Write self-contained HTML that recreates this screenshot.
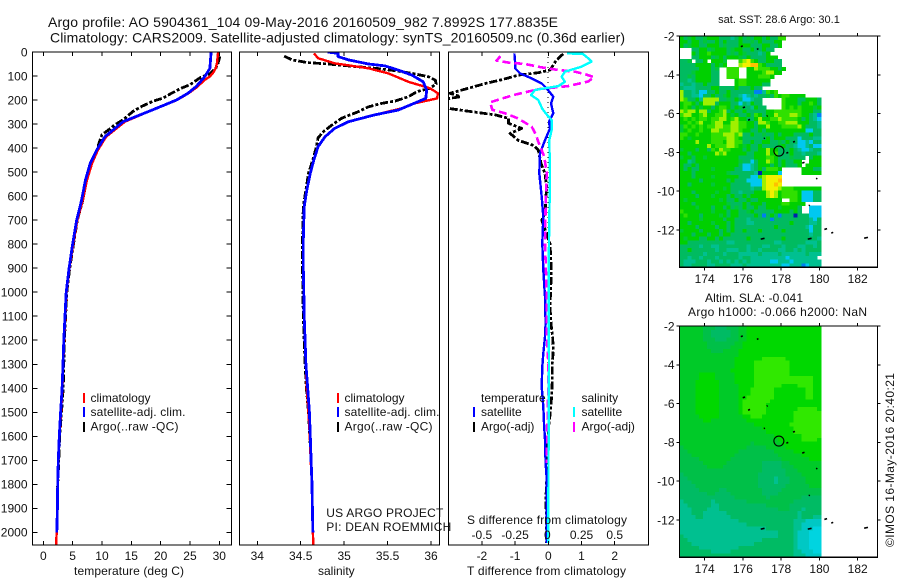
<!DOCTYPE html>
<html lang="en">
<head>
<meta charset="utf-8">
<title>Argo profile 5904361_104</title>
<style>
html,body{margin:0;padding:0;background:#fff;width:900px;height:580px;overflow:hidden}
svg{display:block}
text{font-family:"Liberation Sans",sans-serif;font-size:12px;fill:#111}
.ttl{font-size:14px}
.ax{fill:none;stroke:#000;stroke-width:1.4;shape-rendering:crispEdges}
.tk{stroke:#000;stroke-width:1;shape-rendering:crispEdges}
.ln{fill:none;stroke-linejoin:round;shape-rendering:crispEdges}
</style>
</head>
<body>
<svg id="chart" xmlns="http://www.w3.org/2000/svg" width="900" height="580" viewBox="0 0 900 580">
<defs>
<clipPath id="clip-temp"><rect x="33" y="52" width="198" height="493"/></clipPath>
<clipPath id="clip-sal"><rect x="240" y="52" width="199" height="493"/></clipPath>
<clipPath id="clip-diff"><rect x="449" y="52" width="199" height="493"/></clipPath>
</defs>
<text class="ttl" x="48" y="27" textLength="510" lengthAdjust="spacing">Argo profile: AO 5904361_104 09-May-2016 20160509_982 7.8992S 177.8835E</text>
<text class="ttl" x="50" y="42.5" textLength="575" lengthAdjust="spacing">Climatology: CARS2009. Satellite-adjusted climatology: synTS_20160509.nc (0.36d earlier)</text>
<g id="maps"></g>
<g id="lines"></g>
<g id="axes"></g>

<text x="74" y="575" textLength="110">temperature (deg C)</text>
<text x="318" y="575">salinity</text>
<text x="467" y="575" textLength="159">T difference from climatology</text>
<text x="467" y="524" textLength="160">S difference from climatology</text>

<g>
<rect x="83" y="393" width="2" height="10" fill="#f00"/>
<rect x="83" y="407" width="2" height="10" fill="#00f"/>
<rect x="83" y="422" width="2" height="10" fill="#000"/>
<text x="90.5" y="402">climatology</text>
<text x="90.5" y="416" textLength="95">satellite-adj. clim.</text>
<text x="90.5" y="430.5" textLength="88">Argo(..raw -QC)</text>
</g>
<g>
<rect x="337" y="393" width="2" height="10" fill="#f00"/>
<rect x="337" y="407" width="2" height="10" fill="#00f"/>
<rect x="337" y="422" width="2" height="10" fill="#000"/>
<text x="344.5" y="402">climatology</text>
<text x="344.5" y="416" textLength="95">satellite-adj. clim.</text>
<text x="344.5" y="430.5" textLength="88">Argo(..raw -QC)</text>
</g>
<g>
<text x="481" y="402">temperature</text>
<text x="581.5" y="402">salinity</text>
<rect x="473" y="407" width="2" height="10" fill="#00f"/>
<rect x="473" y="422" width="2" height="10" fill="#000"/>
<rect x="573" y="407" width="2" height="10" fill="#0ff"/>
<rect x="573" y="422" width="2" height="10" fill="#f0f"/>
<text x="481" y="416">satellite</text>
<text x="481" y="430.5">Argo(-adj)</text>
<text x="581.5" y="416">satellite</text>
<text x="581.5" y="430.5">Argo(-adj)</text>
</g>
<text x="326.3" y="517" textLength="117">US ARGO PROJECT</text>
<text x="326.3" y="531" textLength="125">PI: DEAN ROEMMICH</text>

<text x="779" y="23" text-anchor="middle" style="font-size:11px">sat. SST: 28.6 Argo: 30.1</text>
<text x="705" y="302" textLength="98">Altim. SLA: -0.041</text>
<text x="688" y="316" textLength="179">Argo h1000: -0.066 h2000: NaN</text>
<text transform="translate(894 547) rotate(-90)" textLength="174">©IMOS 16-May-2016 20:40:21</text>
</svg>
<script>
// ---- profile data: depth (m) and value arrays ----
const depthTicks = [0,100,200,300,400,500,600,700,800,900,1000,1100,1200,1300,1400,1500,1600,1700,1800,1900,2000];
const tempTicks = [0,5,10,15,20,25,30];
const salTicks = [34,34.5,35,35.5,36];
const salTickLabels = ['34','34.5','35','35.5','36'];
const tDiffTicks = [-2,-1,0,1,2];
const sDiffTicks = [-0.5,-0.25,0,0.25,0.5];
const sDiffTickLabels = ['-0.5','-0.25','0','0.25','0.5'];
const lonTicks = [174,176,178,180,182];
const latTicks = [-2,-4,-6,-8,-10,-12];

const climTempDepth = [0,46,67,85,102,115,150,171,200,228,262,290,318,353,408,464,533,620,700,800,900,1000,1100,1200,1300,1400,1500,1600,1700,1800,1900,2000,2055];
const climTemp = [29.8,29.6,29.4,29.0,28.4,27.6,26.0,24.8,22.8,20,16.6,13.9,12.5,10.7,9.3,8.3,7.45,6.7,5.8,5.1,4.45,3.95,3.75,3.55,3.4,3.25,3.02,2.76,2.56,2.46,2.4,2.28,2.16];
const satTempDepth = [0,68,102,143,171,200,228,262,290,318,353,408,464,533,620,700,800,900,1000,1100,1200,1300,1400,1500,1600,1700,1800,1900,2000];
const satTemp = [28.6,28.4,27.55,26.1,24.7,22.7,19.9,16.5,13.6,12.2,10.5,9.1,8.0,7.2,6.5,5.7,5.0,4.4,3.9,3.7,3.5,3.35,3.2,2.95,2.72,2.55,2.45,2.4,2.3];
const argoTempDepth = [18,46,67,90,108,136,150,171,192,205,226,247,282,303,330,344,379,414,462,533,620,700,800,900,1000,1100,1200,1300,1400,1500,1600,1700,1800,1850];
const argoTemp = [30.1,29.8,29.4,28.4,26.7,25,23.6,21.9,20.4,18.7,16.8,15.3,13.6,12.2,10.8,10,9.5,9.1,8.2,7.4,6.7,5.8,5.15,4.5,4,3.8,3.6,3.5,3.4,3.1,2.8,2.65,2.45,2.4];

const climSalDepth = [6,26,47,68,89,124,151,172,193,214,235,262,290,318,353,394,450,505,575,644,783,900,1000,1100,1200,1300,1400,1500,1600,1700,1800,1900,2000,2055];
const climSal = [34.653,34.70,34.89,35.28,35.51,35.74,35.99,36.08,36.07,35.81,35.66,35.35,35.05,34.89,34.78,34.70,34.65,34.61,34.57,34.54,34.53,34.53,34.535,34.54,34.55,34.56,34.57,34.59,34.605,34.615,34.63,34.635,34.64,34.645];
const satSalDepth = [0,6,19,33,50,58,75,96,124,159,193,207,242,262,290,318,353,394,450,505,575,644,783,900,1000,1100,1200,1300,1400,1500,1600,1700,1800,1900,2000];
const satSal = [34.81,34.93,34.93,35.05,35.28,35.47,35.62,35.78,35.91,35.95,35.94,35.85,35.62,35.35,35.05,34.89,34.78,34.70,34.65,34.61,34.57,34.54,34.53,34.53,34.535,34.54,34.55,34.56,34.58,34.6,34.61,34.62,34.63,34.635,34.64];
const argoSalDepth = [17,33,44,50,58,68,78,89,103,117,133,151,165,186,204,214,228,249,276,304,332,357,394,436,505,575,644,783,900,1000,1100,1200,1300,1400,1500,1600,1700];
const argoSal = [34.31,34.40,34.58,34.82,35.05,35.36,35.59,35.78,35.97,36.05,36.06,35.99,35.84,35.74,35.59,35.43,35.28,35.16,34.97,34.86,34.76,34.70,34.68,34.65,34.59,34.56,34.53,34.52,34.52,34.525,34.53,34.54,34.55,34.565,34.59,34.605,34.62];

const satDiffTDepth = [6,42,68,89,110,131,151,186,214,255,290,318,367,422,505,603,686,797,908,1019,1130,1185,1255,1310,1393,1476,1546,1615,1712,1768,2045];
const satDiffT = [-1.02,-1.0,-1.0,-0.85,-0.5,-0.2,-0.05,0.15,0.08,0.15,0.02,0.05,-0.1,-0.25,-0.27,-0.2,-0.15,-0.18,-0.15,-0.1,-0.08,-0.1,-0.15,-0.18,-0.2,-0.15,-0.13,-0.1,-0.08,-0.05,-0.05];
const argoDiffTDepth = [8,33,75,86,96,114,130,158,172,186,196,200,235,245,262,276,297,318,339,368,389,408,464,506,561,672,700,797,880,950,1060,1130,1185,1240,1296,1365,1435,1490,1574,1712,1851,2045];
const argoDiffT = [0.45,0.25,0.05,-0.3,-0.9,-1.36,-1.86,-2.6,-2.96,-2.65,-3.1,-3.2,-3.0,-2.5,-1.6,-1.2,-1.2,-0.8,-1.15,-0.9,-0.45,-0.3,-0.22,-0.1,-0.05,-0.1,-0.2,0.05,0.08,0.08,0.05,0.08,0.13,0.15,0.12,0.12,0.1,0.07,0,-0.03,-0.07,-0.05];
const satDiffSDepth = [6,8,26,40,61,82,103,124,142,158,179,200,235,262,283,325,367,505,783,1000,1300,1600,2045];
const satDiffS = [0.14,0.26,0.30,0.325,0.25,0.125,0.10,0.125,0.075,-0.10,-0.13,-0.075,-0.047,-0.01,0.025,0.025,0.0075,0.0125,0.005,0.003,0.005,0.002,0];
const argoDiffSDepth = [17,36,44,50,64,75,82,92,105,123,142,155,179,194,210,241,255,276,311,347,367,394,436,505,644,800,1000,1185,1296,1393,1518,1712];
const argoDiffS = [-0.36,-0.39,-0.30,-0.175,-0.05,0.075,0.2,0.275,0.345,0.30,0.15,-0.075,-0.26,-0.35,-0.44,-0.42,-0.325,-0.23,-0.125,-0.09,-0.08,-0.06,-0.03,-0.012,-0.02,-0.025,-0.012,-0.01,0,0,-0.005,-0.012];

// ---- map data: each character is one grid cell, '.' is missing ----
const sstRows = [
"gamgaamgggaaatagamaggagaall","ggaggamaagagaaagaamagaaagg","gamggaagggamaaagggaaaggaag","...aaggamgggamggaagaagaa","...gagglggggamagmaaatag","...aagggamgagggmagaaaaggg",
"aam.aag.gggm...lyYlgaaggaa","aaaaggggagmg...yYYoolgaaaa","aaaaagggam..lll..ggylllggag","aaamggggaa..lll..gggglyygg","aamaggggaa..lll..ggglllg","aataggggaa....gllgggggg",
"taataagaaa....gllggggaa","atttaaaaggaaaagaaagaa","yaataccaagaagaaaaaabbtlgl","yaattcaagaamgaatctataamalgllgggg",
"ylaagtyyyyaamagacctaa.....lgggaaggga","gllgagyyyagggaacatgaa.....lgggagglga","glgagmggagllgagmaatgaa....lglglgggmg","ylyygyyagglyagaagaaaaagglllllllgggaa",
"lyygglyggllygmgaagalgaggylllyylggatb","glglgllgllyyglyggaagyggllyllllgagatc","gglglygglyyggyyllggayylggllyyygggaat","mlglglgllyyllyyllggaggygggllllygaaat",
"mglgglggyylllyylggaagaggggggggggccaa","llgglggglllyyylyaagaamaagagggaaaagaa","lgmgggggllllyylgaaaaaagagggaaacaaatt","ggggyggglllgyyllaagaaggaamagaacctcaa",
"gggggggyglllyylgmgaagaaaamgaatcctacc","mgggaggalgyllgggagaaggyggaaagatcctaa","ggaggggggylygggggaagggyglaaagaataaat","mggaggmggggggggaaaagggllgaaamaaa.agg",
"ggtagggggggggggmaacaggylgagaagg..ggg","gaagaggggggggggacctagggagagaaag.gggg","gagaagggmgggggaacctagalllg.....gggaa","gggaggggggggmaaaaaatdggggc.....ggggg",
"gggaggggmggggggaaacclyYYYY","gggggaggggggagaaaccccyYYYo","ggagggggmggggaaaaacccyYYoY","gggggggggggmgaaaaataayYYYylllggggggg",
"gggagggggmgggaataaagggyYygllllgcccaa","ggggagggmgggagaagaggggyYygllllgcccaa","gmggggggggmgaagaagaagggggg..llgcccaa","gggaggggggggmaaagagggaggggllgggg",
"ggggmgggaggagamagaagaagggmgggga..ccc","lgggggggmgggaggaamgaaaaaggggaga..ccc","glgggaggggmgaggaaaagabagabaaadaaaccc","gggggmgggggaggaaataaaaabaaaaaaaaatca",
"ggagggggmgggagaaattaaaaaaaaagaaaatta","ggggaggggaggagaaaaaaaaaagaaaaaaatcaa","mggggaggggagagaagaaagaaaaagaaaaaacaa","gggagggaggaggaaaaaaaaaaaaaaaaaaaataa",
"gmgggaaggagaaaaaagaaaaaaaagaaaaaaaat","ggaaaaaaaaaattaaaaaaaaaattaaaaaattta","aaaaataattaaaaaaataaattaaataaattaata","aagaaaaaataatttaataataaaattaatataaaa",
"aaaaaataaaataaatttttattttattttttattt","aataataaataaaaataatttttttttcttttttt","atttaaataatatatatatttttcctttcttttttt","attaaaattaaaatttatttttttttcctttbcttt"
];
const slaRows = [
"mmmmmmnnnaaannnmmggggggggggggggggggg","mmmmmmnnaaaaannmmggggggggggggggggggg","mmmmmmnnaaaaannmmggggggggggggggggggg","mmmmmmnnnaaannnmmggggggggggggggggggg",
"mmmmmmmnnnnnnnmmgggggggggggggggggggg","mmmmmmmnnnnnnmmmgggggggggggggggggggg","mmmmmmmmnnnmmmmggggggggggggggggggggg","mmmmmmmmmmmmmmmggggggggggggggggggggg",
"mmmmmmmmmmmmmmgggggggppppppggggggggg","mmmmmmmmmmmmmmgggggpppppppppggggggggg","mmmmmmmmmmmmmmgggggpppppppppggggggggg","mmmmmmmmmmmmmggggggpppppppppggggggggg",
"mmmmmggggmmmmmgggggpppppppppggggggggg","mmmmmggggmmmmmgggggpppppppppppppppggg","mmmmggggggmmmmgggggpppppppppppppppggg","mmmmggggggmmmmmggggpppppppggggppppggg",
"mmmmggggggmmmmmgggppppppggggggggppggg","mmmmggggggmmmmmgggppppppggggggggppggg","mmmmggggggmmmmmggpppppppggggggggppggg","mmmmggggggmmmmmgpppppppggggggggggggg",
"mmmmggggggmmmmmgppppppgggggggggggggg","mmmmggggggmmmmmgppppppggggggggpppppg","mmmmggggggmmmmmgppppppgggggggpppppppp","mmmmmgggggmmmmmmggpppggggggggpppppppp",
"mmmmmmggmmmmmmmmmggggggggggggpppppppp","mmmmmmmmmmmmmmmmmmmgggggggggppppppppp","mmmmmmmmmmmmmmmmmmmmmggggggggpppppppp","mmmmmmmmmmmmmmmmmmmmmmgggggggpppppppp",
"mmmmmmmmmmmmmmmmmmmmmmmmgggggggpppppg","mmmmmmmmmmmmmmmmmmmmmmmmmggggggppppgg","mmmmmmmmmmmmmmmmmmnmmmmmmmggggggggggg","nmmmmmmmmmmmmmmmmnnnnnmmmmmggggggggg",
"nnmmmmmmmmmmmmmnnnnnnnnnmmmmmggggggg","nnnmmmmmmmmmmmnnnnnnnnnnnmmmmmmggggg","nnnnnmmmmmmmmnnnnnnnnnnnnnmmmmmmmggg","nnnnnnmmmmmmnnnnnnnnnaaaaannmmmmmmmm",
"nnnnnnnmmmmnnnnnnnnnnaaaaannnmmmmmmm","nnnnnnnnnnnnnnnnnnnnnaaaaaannnmmmmmm","annnnnnnnnnnnnnnnnnnaaaaaaannnnmmmmm","aannnnnnnnnnnnnnnnnnaaaataaannnnmmmm",
"aaannnnnnnnnnnnnnnnnaaaataaannnnmmmm","aaaannnnnnnnnnnnnnnnaaaaaaannnnnnmmm","aaaaannnnnaannnnnnnnnaaaaannnnnnnnnn","aaaaaaannaaaannnnnnnnaaaannnnnnnnnnn",
"aaaaaaaaaaaaaannnnnnnnannnnnnnnaaaaa","taaaaaaataaaaaaaannnnnnnnnnnnaaaaaaa","ttaaaaaattaaaaaaaaaaaannnnnnaaaaaaaa","tttaaaatttaaaaaaaaaaaaaaannnaaataaaa",
"tttaaattttttaaaaaaaaaaaaaaaaaataaaaa","ttttaatttttttaaaaaaaaaaaaaaaaataaatt","tttttttttttttttaaaaaaaaaaaaaatttTTTT","tttttttttttttttttaaaaaaaaaaaattTTTTT",
"ttttttttttttttttttttttaaaaaaattTTTcc","tttttttttttttttttttttttttaaaatTTTccc","attttttttttttttttttttttttaaaatTTTccc","aatttttttttttttttttttaaaaaaaatTTTccc",
"aaattttttttttttttttaaaaaaaaaatTTTccc","aaaaattttttttttaaaaaaaaaaaaaatTTTccc","aaaaaaaatttttaaaaaaaaaaaaaaaattTTTcc","aaaaaaaaaaaaaaaaaaaaaaaaaaaaatttTTTT"
];
const sstColorKeys = ['g','m','a','l','y','Y','o','t','c','b','d'];
const sstColorHex = ['#00d000','#00c838','#00bb60','#30e000','#a0f000','#f4f000','#ffc000','#00c090','#00c8f0','#0080f0','#0020b0'];
const slaColorKeys = ['p','g','m','n','a','t','T','c'];
const slaColorHex = ['#30e800','#00d800','#00ca28','#00c048','#00bb64','#00c090','#00c8c4','#00d4e0'];
const islandLon = [175.94,176.77,176.05,176.32,177.27,177.12,178.67,178.32,179.16,179.86,179.47,177.03,179.49,180.33,180.67,182.44];
const islandLat = [-2.53,-2.67,-5.68,-6.32,-6.12,-7.27,-7.45,-8.02,-8.53,-9.35,-10.73,-12.45,-12.45,-11.95,-12.14,-12.4];
const islandSize = [0.1,0.08,0.12,0.1,0.04,0.04,0.1,0.1,0.12,0.06,0.04,0.2,0.2,0.14,0.1,0.2];
const floatLon = 177.88;
const floatLat = -7.93;

// ---- axis functions ----
const SVGNS = 'http://www.w3.org/2000/svg';
const linesGroup = document.getElementById('lines');
const axesGroup = document.getElementById('axes');
const mapsGroup = document.getElementById('maps');
const y = d => 52 + d * 0.2402;
const xTemp = t => 43.3 + t * 5.867;
const xSal = s => 257.3 + (s - 34) * 86.85;
const xDiffT = v => 548.3 + v * 33.2;
const xDiffS = v => 548.3 + v * 132.8;
const lonX = lon => 704.7 + (lon - 174) * 19.12;
const latOffset = lat => (-2 - lat) * 19.4;

function el(tag, attrs, parent) {
  const e = document.createElementNS(SVGNS, tag);
  for (const k in attrs) e.setAttribute(k, attrs[k]);
  parent.appendChild(e);
  return e;
}
function profile(name, depths, values, xf, color, width, dash, clip) {
  const n = Math.min(depths.length, values.length);
  const pts = [];
  for (let i = 0; i < n; i++) pts.push(xf(values[i]).toFixed(1) + ',' + y(depths[i]).toFixed(1));
  const a = {class: 'ln', points: pts.join(' '), stroke: color, 'stroke-width': width, 'clip-path': 'url(#' + clip + ')'};
  if (dash) a['stroke-dasharray'] = dash;
  const p = el('polyline', a, linesGroup);
  
  
}
function frame(name, x0, y0, x1, y1) {
  const r = el('rect', {class: 'ax', x: x0, y: y0, width: x1 - x0, height: y1 - y0}, axesGroup);
  
  
}
function tick(name, x1, y1, x2, y2) {
  const l = el('line', {class: 'tk', x1: x1, y1: y1, x2: x2, y2: y2}, axesGroup);
  
  
}
function label(name, str, x, yy, anchor) {
  const t = el('text', {x: x, y: yy, 'text-anchor': anchor}, axesGroup);
  t.textContent = str;
  
  
}

// ---- profile panels ----
profile('argo-temperature-line', argoTempDepth, argoTemp, xTemp, '#000', 2.8, '8 2 3 2', 'clip-temp');
profile('climatology-temperature-line', climTempDepth, climTemp, xTemp, '#f00', 2.4, null, 'clip-temp');
profile('satellite-temperature-line', satTempDepth, satTemp, xTemp, '#00f', 2.8, null, 'clip-temp');
profile('argo-salinity-line', argoSalDepth, argoSal, xSal, '#000', 2.8, '8 2 3 2', 'clip-sal');
profile('climatology-salinity-line', climSalDepth, climSal, xSal, '#f00', 2.4, null, 'clip-sal');
profile('satellite-salinity-line', satSalDepth, satSal, xSal, '#00f', 2.8, null, 'clip-sal');

const zero = el('line', {x1: 548, y1: 52, x2: 548, y2: 545, stroke: '#000', 'stroke-width': 1, 'stroke-dasharray': '1 4', 'shape-rendering': 'crispEdges'}, linesGroup);


profile('argo-temperature-difference-line', argoDiffTDepth, argoDiffT, xDiffT, '#000', 2.8, '8 2 3 2', 'clip-diff');
profile('satellite-temperature-difference-line', satDiffTDepth, satDiffT, xDiffT, '#00f', 2.4, null, 'clip-diff');
profile('argo-salinity-difference-line', argoDiffSDepth, argoDiffS, xDiffS, '#f0f', 2.6, '8 4', 'clip-diff');
profile('satellite-salinity-difference-line', satDiffSDepth, satDiffS, xDiffS, '#0ff', 2.4, null, 'clip-diff');

// ---- axes ----
frame('temperature-panel-frame', 32.5, 52, 231.5, 545);
frame('salinity-panel-frame', 239.5, 52, 439.5, 545);
frame('difference-panel-frame', 448.5, 52, 648.5, 545);
depthTicks.forEach(d => {
  tick('depth-tick-left', 33, y(d), 37.5, y(d));
  tick('depth-tick-right', 226.5, y(d), 231, y(d));
  label('depth-tick-label', String(d), 27.5, y(d) + 4.3, 'end');
});
tempTicks.forEach(t => {
  tick('temperature-tick-bottom', xTemp(t), 541, xTemp(t), 545);
  tick('temperature-tick-top', xTemp(t), 52, xTemp(t), 56);
  label('temperature-tick-label', String(t), xTemp(t), 560, 'middle');
});
salTicks.forEach((s, i) => {
  tick('salinity-tick-bottom', xSal(s), 541, xSal(s), 545);
  tick('salinity-tick-top', xSal(s), 52, xSal(s), 56);
  label('salinity-tick-label', salTickLabels[i], xSal(s), 560, 'middle');
});
tDiffTicks.forEach(v => {
  tick('t-difference-tick-bottom', xDiffT(v), 541, xDiffT(v), 545);
  if (v % 2 === 0) tick('t-difference-tick-top', xDiffT(v), 52, xDiffT(v), 56);
  label('t-difference-tick-label', String(v), xDiffT(v), 560, 'middle');
});
sDiffTicks.forEach((v, i) => {
  label('s-difference-tick-label', sDiffTickLabels[i], xDiffS(v) - (v === 0 ? 1 : 0), 539, 'middle');
});

// ---- maps ----
function drawMap(prefix, rows, keys, colors, top) {
  const bottom = top + 231.4;
  const g = el('g', {'shape-rendering': 'crispEdges'}, mapsGroup);
  
  
  const left = 679.6, cols = 36, w = (821 - left) / cols, h = 231.4 / rows.length;
  rows.forEach((row, r) => {
    for (let c = 0; c < cols && c < row.length; c++) {
      const i = keys.indexOf(row[c]);
      if (i < 0) continue;
      const cell = el('rect', {x: (left + c * w).toFixed(2), y: (top + r * h).toFixed(2), width: (w + 0.4).toFixed(2), height: (h + 0.4).toFixed(2), fill: colors[i]}, g);
      
      
    }
  });
  islandLon.forEach((lon, i) => {
    const px = lonX(lon), py = top + latOffset(islandLat[i]), s = islandSize[i] * 19.12 / 2;
    const isl = el('line', {x1: px - s, y1: py + 0.4, x2: px + s, y2: py - 0.4, stroke: '#000', 'stroke-width': 1.6}, mapsGroup);
    
    
  });
  const mark = el('circle', {cx: lonX(floatLon), cy: top + latOffset(floatLat), r: 5, fill: 'none', stroke: '#000', 'stroke-width': 1.1}, mapsGroup);
  
  
  frame(prefix + '-map-frame', 679.5, top, 877.5, bottom);
  lonTicks.forEach(lon => {
    tick(prefix + '-map-lon-tick-top', lonX(lon), top - 3, lonX(lon), top);
    tick(prefix + '-map-lon-tick-bottom', lonX(lon), bottom, lonX(lon), bottom + 3);
    label(prefix + '-map-lon-label', String(lon), lonX(lon), bottom + 15.5, 'middle');
  });
  latTicks.forEach(lat => {
    tick(prefix + '-map-lat-tick-left', 676.5, top + latOffset(lat), 679.5, top + latOffset(lat));
    tick(prefix + '-map-lat-tick-right', 877.5, top + latOffset(lat), 880.5, top + latOffset(lat));
    label(prefix + '-map-lat-label', String(lat), 674.5, top + latOffset(lat) + 4.3, 'end');
  });
}
drawMap('sst', sstRows, sstColorKeys, sstColorHex, 36);
drawMap('sla', slaRows, slaColorKeys, slaColorHex, 326);
</script>
</body>
</html>
